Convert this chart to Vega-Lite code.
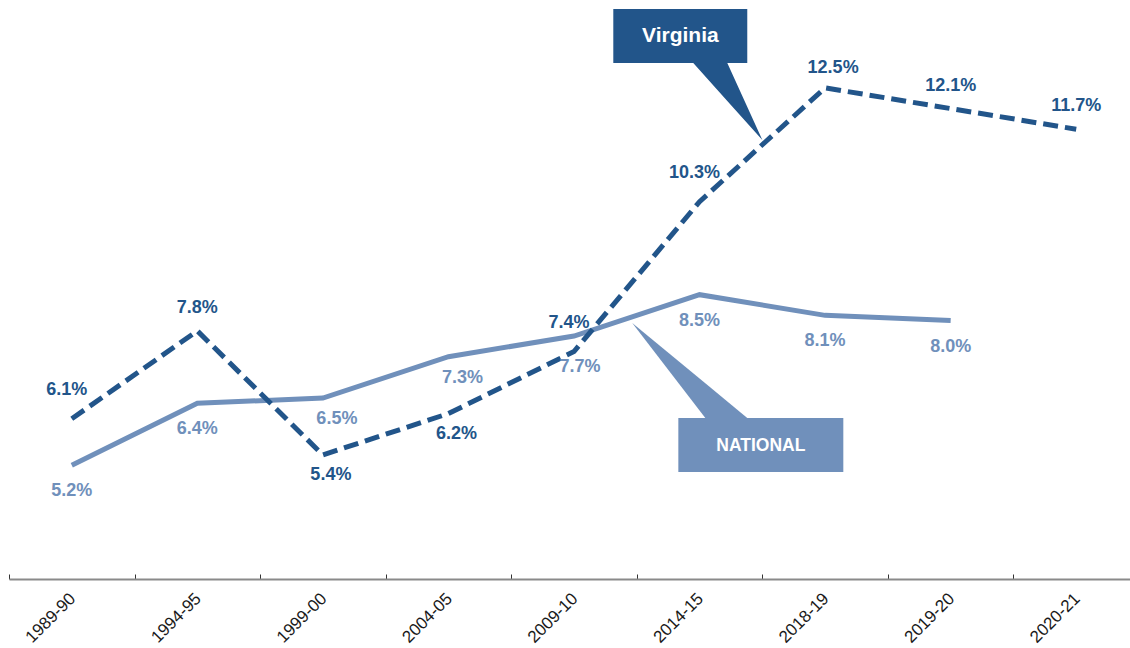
{
  "$schema": "https://vega.github.io/schema/vega-lite/v6.json",
  "width": 1121,
  "height": 579,
  "autosize": {"type": "none"},
  "padding": {"left": 9, "top": 0, "right": 0, "bottom": 69},
  "background": "white",
  "config": {"view": {"stroke": null}},
  "datasets": {
    "rates": [
      {"year": "1989-90", "series": "Virginia", "value": 6.1},
      {"year": "1994-95", "series": "Virginia", "value": 7.8},
      {"year": "1999-00", "series": "Virginia", "value": 5.4},
      {"year": "2004-05", "series": "Virginia", "value": 6.2},
      {"year": "2009-10", "series": "Virginia", "value": 7.4},
      {"year": "2014-15", "series": "Virginia", "value": 10.3},
      {"year": "2018-19", "series": "Virginia", "value": 12.5},
      {"year": "2019-20", "series": "Virginia", "value": 12.1},
      {"year": "2020-21", "series": "Virginia", "value": 11.7},
      {"year": "1989-90", "series": "National", "value": 5.2},
      {"year": "1994-95", "series": "National", "value": 6.4},
      {"year": "1999-00", "series": "National", "value": 6.5},
      {"year": "2004-05", "series": "National", "value": 7.3},
      {"year": "2009-10", "series": "National", "value": 7.7},
      {"year": "2014-15", "series": "National", "value": 8.5},
      {"year": "2018-19", "series": "National", "value": 8.1},
      {"year": "2019-20", "series": "National", "value": 8.0}
    ],
    "boxes": [
      {"name": "Virginia", "x": 4.813, "x2": 5.880, "y": 14.026, "y2": 12.98, "tx": 5.347, "ty": 13.5},
      {"name": "NATIONAL", "x": 5.331, "x2": 6.645, "y": 6.115, "y2": 5.070, "tx": 5.988, "ty": 5.573}
    ],
    "pointers": [
      {"name": "Virginia", "x": 5.450, "y": 12.98, "y2": 12.98},
      {"name": "Virginia", "x": 5.721, "y": 12.98, "y2": 12.246},
      {"name": "Virginia", "x": 6.0, "y": 11.49, "y2": 11.49},
      {"name": "NATIONAL", "x": 4.964, "y": 7.952, "y2": 7.952},
      {"name": "NATIONAL", "x": 5.546, "y": 6.785, "y2": 6.115},
      {"name": "NATIONAL", "x": 5.880, "y": 6.115, "y2": 6.115}
    ]
  },
  "resolve": {"scale": {"x": "independent"}, "axis": {"x": "independent"}},
  "layer": [
    {
      "encoding": {
        "x": {"field": "x", "type": "quantitative", "scale": {"domain": [0, 9], "range": [0, 1130]}, "axis": null},
        "y": {"field": "y", "type": "quantitative", "scale": {"domain": [3, 14.2], "nice": false, "zero": false}, "axis": null}
      },
      "layer": [
        {
          "data": {"name": "pointers"},
          "transform": [{"filter": "datum.name == 'Virginia'"}],
          "mark": {"type": "area", "interpolate": "linear", "fill": "#22558a"},
          "encoding": {"y2": {"field": "y2"}}
        },
        {
          "data": {"name": "pointers"},
          "transform": [{"filter": "datum.name == 'NATIONAL'"}],
          "mark": {"type": "area", "interpolate": "linear", "fill": "#7090bb"},
          "encoding": {"y2": {"field": "y2"}}
        },
        {
          "data": {"name": "boxes"},
          "transform": [{"filter": "datum.name == 'Virginia'"}],
          "mark": {"type": "rect", "fill": "#22558a"},
          "encoding": {"x2": {"field": "x2"}, "y2": {"field": "y2"}}
        },
        {
          "data": {"name": "boxes"},
          "transform": [{"filter": "datum.name == 'NATIONAL'"}],
          "mark": {"type": "rect", "fill": "#7090bb"},
          "encoding": {"x2": {"field": "x2"}, "y2": {"field": "y2"}}
        },
        {
          "data": {"name": "boxes"},
          "transform": [{"filter": "datum.name == 'Virginia'"}],
          "mark": {"type": "text", "font": "Liberation Sans", "fontWeight": "bold", "fontSize": 21, "fill": "white", "align": "center", "baseline": "middle"},
          "encoding": {
            "x": {"field": "tx", "type": "quantitative"},
            "y": {"field": "ty", "type": "quantitative"},
            "text": {"field": "name"}
          }
        },
        {
          "data": {"name": "boxes"},
          "transform": [{"filter": "datum.name == 'NATIONAL'"}],
          "mark": {"type": "text", "font": "Liberation Sans", "fontWeight": "bold", "fontSize": 17.5, "fill": "white", "align": "center", "baseline": "middle"},
          "encoding": {
            "x": {"field": "tx", "type": "quantitative"},
            "y": {"field": "ty", "type": "quantitative"},
            "text": {"field": "name"}
          }
        }
      ]
    },
    {
      "data": {"name": "rates"},
      "transform": [{"calculate": "format(datum.value, '.1f') + '%'", "as": "label"}],
      "encoding": {
        "x": {
          "field": "year", "type": "ordinal", "sort": null,
          "scale": {"type": "band", "paddingInner": 0, "paddingOuter": 0, "range": [0, 1130]},
          "axis": {
            "title": null, "labelAngle": -45, "labelFont": "Liberation Sans", "labelFontSize": 17,
            "labelColor": "#1a1a1a", "domainColor": "#8a8a8a", "domainWidth": 2,
            "tickColor": "#333333", "tickSize": -5, "tickWidth": 1, "tickBand": "extent",
            "labelPadding": 16, "labelOffset": -5, "grid": false
          }
        },
        "y": {"field": "value", "type": "quantitative", "scale": {"domain": [3, 14.2], "nice": false, "zero": false}, "axis": null}
      },
      "layer": [
        {
          "transform": [{"filter": "datum.series == 'National'"}],
          "mark": {"type": "line", "strokeWidth": 5, "stroke": "#7090bb"},
          "encoding": {}
        },
        {
          "transform": [{"filter": "datum.series == 'Virginia'"}],
          "mark": {"type": "line", "strokeWidth": 5, "stroke": "#22558a", "strokeDash": [15, 7]},
          "encoding": {}
        },
        {
          "transform": [{"filter": "datum.series == 'National' && indexof(['1989-90','1994-95','2014-15','2018-19','2019-20'], datum.year) >= 0"}],
          "mark": {"type": "text", "font": "Liberation Sans", "fontWeight": "bold", "fontSize": 18, "fill": "#7090bb", "dy": 26, "align": "center", "baseline": "middle"},
          "encoding": {"text": {"field": "label"}}
        },
        {
          "transform": [{"filter": "datum.series == 'National' && (datum.year == '1999-00' || datum.year == '2004-05')"}],
          "mark": {"type": "text", "font": "Liberation Sans", "fontWeight": "bold", "fontSize": 18, "fill": "#7090bb", "dy": 21, "dx": 14, "align": "center", "baseline": "middle"},
          "encoding": {"text": {"field": "label"}}
        },
        {
          "transform": [{"filter": "datum.series == 'National' && datum.year == '2009-10'"}],
          "mark": {"type": "text", "font": "Liberation Sans", "fontWeight": "bold", "fontSize": 18, "fill": "#7090bb", "dy": 31, "dx": 6, "align": "center", "baseline": "middle"},
          "encoding": {"text": {"field": "label"}}
        },
        {
          "transform": [{"filter": "datum.series == 'Virginia' && indexof(['1989-90','2009-10','2014-15'], datum.year) >= 0"}],
          "mark": {"type": "text", "font": "Liberation Sans", "fontWeight": "bold", "fontSize": 18, "fill": "#22558a", "dy": -29, "dx": -5, "align": "center", "baseline": "middle"},
          "encoding": {"text": {"field": "label"}}
        },
        {
          "transform": [{"filter": "datum.series == 'Virginia' && indexof(['1994-95','2019-20','2020-21'], datum.year) >= 0"}],
          "mark": {"type": "text", "font": "Liberation Sans", "fontWeight": "bold", "fontSize": 18, "fill": "#22558a", "dy": -23, "align": "center", "baseline": "middle"},
          "encoding": {"text": {"field": "label"}}
        },
        {
          "transform": [{"filter": "datum.series == 'Virginia' && datum.year == '2018-19'"}],
          "mark": {"type": "text", "font": "Liberation Sans", "fontWeight": "bold", "fontSize": 18, "fill": "#22558a", "dy": -20, "dx": 8, "align": "center", "baseline": "middle"},
          "encoding": {"text": {"field": "label"}}
        },
        {
          "transform": [{"filter": "datum.series == 'Virginia' && (datum.year == '1999-00' || datum.year == '2004-05')"}],
          "mark": {"type": "text", "font": "Liberation Sans", "fontWeight": "bold", "fontSize": 18, "fill": "#22558a", "dy": 20, "dx": 8, "align": "center", "baseline": "middle"},
          "encoding": {"text": {"field": "label"}}
        }
      ]
    }
  ]
}
